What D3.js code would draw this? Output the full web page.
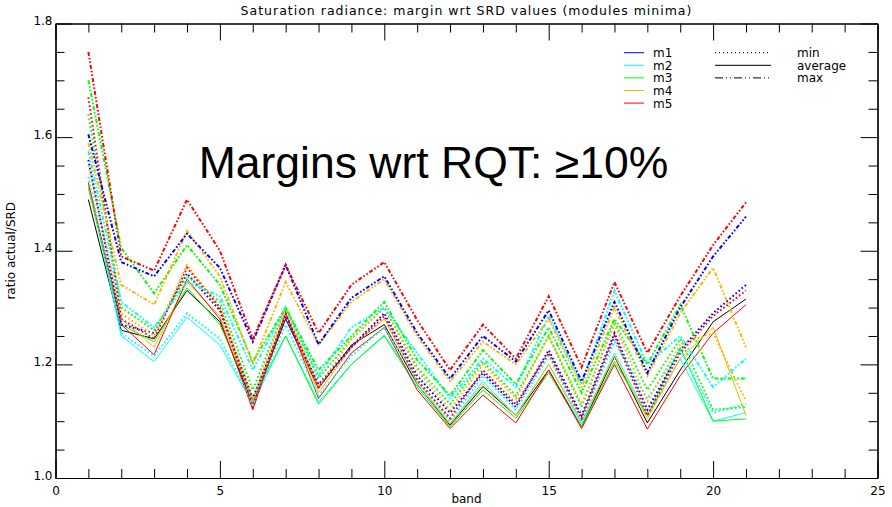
<!DOCTYPE html>
<html>
<head>
<meta charset="utf-8">
<script src="https://cdn.jsdelivr.net/npm/d3@7"></script>
<style>
  html, body { margin: 0; padding: 0; background: #fff; }
  svg { display: block; }
  text { font-family: "DejaVu Sans", "Liberation Sans", Arial, sans-serif; }
</style>
</head>
<body>
<svg id="chart" width="892" height="507"></svg>
<script>
// Spectral bands on the x axis
const bands = [1,2,3,4,5,6,7,8,9,10,11,12,13,14,15,16,17,18,19,20,21];

// Ratio actual/SRD per module: max (dash-dot), min (dotted), average (solid)
const m1Max = [1.605,1.38,1.355,1.43,1.37,1.24,1.375,1.235,1.317,1.355,1.255,1.175,1.25,1.205,1.295,1.17,1.31,1.185,1.30,1.39,1.46];
const m2Max = [1.575,1.31,1.265,1.345,1.32,1.19,1.30,1.18,1.265,1.30,1.22,1.14,1.21,1.16,1.285,1.165,1.33,1.20,1.25,1.16,1.21];
const m3Max = [1.70,1.405,1.325,1.41,1.34,1.205,1.30,1.19,1.25,1.31,1.208,1.145,1.225,1.165,1.265,1.15,1.28,1.20,1.305,1.175,1.175];
const m4Max = [1.59,1.34,1.305,1.435,1.355,1.20,1.345,1.235,1.31,1.35,1.25,1.17,1.24,1.20,1.28,1.16,1.30,1.18,1.29,1.37,1.23];
const m5Max = [1.75,1.39,1.365,1.49,1.40,1.245,1.375,1.255,1.34,1.38,1.278,1.19,1.27,1.21,1.32,1.195,1.345,1.22,1.32,1.41,1.485];

const m1Min = [1.56,1.27,1.255,1.36,1.295,1.14,1.285,1.165,1.231,1.29,1.18,1.115,1.185,1.125,1.225,1.11,1.255,1.12,1.225,1.29,1.34];
const m2Min = [1.53,1.255,1.215,1.29,1.245,1.13,1.27,1.145,1.215,1.265,1.175,1.10,1.18,1.12,1.215,1.10,1.24,1.14,1.225,1.115,1.13];
const m3Min = [1.64,1.30,1.26,1.355,1.31,1.155,1.30,1.175,1.245,1.30,1.195,1.13,1.205,1.145,1.25,1.125,1.275,1.155,1.245,1.12,1.125];
const m4Min = [1.55,1.29,1.25,1.375,1.30,1.14,1.30,1.16,1.245,1.30,1.19,1.12,1.20,1.14,1.25,1.13,1.27,1.135,1.235,1.255,1.135];
const m5Min = [1.67,1.28,1.245,1.37,1.30,1.125,1.29,1.16,1.23,1.285,1.172,1.105,1.19,1.13,1.22,1.105,1.25,1.11,1.22,1.285,1.33];

const m2Avg = [1.52,1.25,1.205,1.283,1.234,1.13,1.25,1.134,1.20,1.252,1.165,1.095,1.17,1.11,1.20,1.095,1.22,1.11,1.21,1.10,1.115];
const m3Avg = [1.51,1.27,1.24,1.335,1.27,1.14,1.25,1.13,1.20,1.25,1.16,1.09,1.155,1.105,1.185,1.09,1.205,1.11,1.23,1.10,1.104];
const m4Avg = [1.515,1.28,1.23,1.345,1.285,1.135,1.29,1.15,1.23,1.28,1.17,1.095,1.165,1.11,1.20,1.10,1.215,1.105,1.21,1.265,1.11];
const m5Avg = [1.52,1.27,1.217,1.35,1.28,1.12,1.29,1.14,1.22,1.265,1.155,1.087,1.146,1.097,1.19,1.087,1.20,1.086,1.18,1.255,1.305];
const allAvg = [1.49,1.26,1.245,1.33,1.275,1.13,1.28,1.158,1.234,1.27,1.165,1.093,1.161,1.11,1.19,1.09,1.214,1.097,1.19,1.275,1.315];

// Axis ticks
const xMajorTicks = [0,5,10,15,20,25];
const yMajorTicks = [1.0,1.2,1.4,1.6,1.8];
const yTickLabels = ["1.0","1.2","1.4","1.6","1.8"];

const moduleNames = ["m1","m2","m3","m4","m5"];
const styleNames = ["min","average","max"];

const colors = { m1: "#0000ff", m2: "#00ffff", m3: "#00ff00", m4: "#ffb400", m5: "#ff0000", all: "#000000" };
const dashes = { min: "1.6,2.4", average: null, max: "4,2,1.6,2,1.6,2" };
const widths = { min: 2, average: 1, max: 2 };

const series = [
  { mod: "all", style: "average", values: allAvg },
  { mod: "m2", style: "average", values: m2Avg },
  { mod: "m3", style: "average", values: m3Avg },
  { mod: "m4", style: "average", values: m4Avg },
  { mod: "m5", style: "average", values: m5Avg },
  { mod: "m1", style: "min", values: m1Min },
  { mod: "m2", style: "min", values: m2Min },
  { mod: "m3", style: "min", values: m3Min },
  { mod: "m4", style: "min", values: m4Min },
  { mod: "m5", style: "min", values: m5Min },
  { mod: "m2", style: "max", values: m2Max },
  { mod: "m3", style: "max", values: m3Max },
  { mod: "m4", style: "max", values: m4Max },
  { mod: "m1", style: "max", values: m1Max },
  { mod: "m5", style: "max", values: m5Max }
];

const svg = d3.select("#chart");
const L = 55.5, R = 877.5, T = 23.5, B = 478;

const x = d3.scaleLinear().domain([0, 25]).range([L, R]);
const y = d3.scaleLinear().domain([1.0, 1.8]).range([B, T]);

// Data lines
const line = d3.line().x((d, i) => x(bands[i])).y(d => y(d));
const gLines = svg.append("g");
series.forEach(s => {
  gLines.append("path")
    .datum(s.values)
    .attr("d", line)
    .attr("fill", "none")
    .attr("stroke", colors[s.mod])
    .attr("stroke-width", widths[s.style])
    .attr("stroke-dasharray", dashes[s.style])
    .attr("stroke-linejoin", "miter");
});

// Axes: major ticks long, minor ticks short, all pointing inward
const xMinor = d3.range(0, 26).filter(v => v % 5 !== 0);
const yMinor = d3.range(1.0, 1.8001, 0.05).filter(v => Math.abs(v * 5 - Math.round(v * 5)) > 1e-6);

function styleAxis(g) {
  g.selectAll("path.domain").attr("stroke", "#000").attr("stroke-width", 1.2);
  g.selectAll(".tick line").attr("stroke", "#000").attr("stroke-width", 1);
  g.selectAll(".tick text").attr("font-size", 12).attr("fill", "#000")
    .style("font-family", '"DejaVu Sans", sans-serif');
}

svg.append("g").attr("transform", `translate(0,${B})`)
  .call(d3.axisBottom(x).tickValues(xMajorTicks).tickSize(-17).tickSizeOuter(0).tickPadding(8).tickFormat(d3.format("d")))
  .call(styleAxis)
  .call(g => g.selectAll(".tick text").attr("y", 8).attr("dy", "0.71em"));
svg.append("g").attr("transform", `translate(0,${B})`)
  .call(d3.axisBottom(x).tickValues(xMinor).tickSize(-9).tickSizeOuter(0).tickFormat(""))
  .call(styleAxis);
svg.append("g").attr("transform", `translate(0,${T})`)
  .call(d3.axisTop(x).tickValues(xMajorTicks).tickSize(-17).tickSizeOuter(0).tickFormat(""))
  .call(styleAxis);
svg.append("g").attr("transform", `translate(0,${T})`)
  .call(d3.axisTop(x).tickValues(xMinor).tickSize(-9).tickSizeOuter(0).tickFormat(""))
  .call(styleAxis);

svg.append("g").attr("transform", `translate(${L},0)`)
  .call(d3.axisLeft(y).tickValues(yMajorTicks).tickSize(-17).tickSizeOuter(0).tickPadding(3)
    .tickFormat((d, i) => yTickLabels[i]))
  .call(styleAxis)
  .call(g => g.selectAll(".tick text").attr("x", -3).attr("dy", "0.1em"));
svg.append("g").attr("transform", `translate(${L},0)`)
  .call(d3.axisLeft(y).tickValues(yMinor).tickSize(-9).tickSizeOuter(0).tickFormat(""))
  .call(styleAxis);
svg.append("g").attr("transform", `translate(${R},0)`)
  .call(d3.axisRight(y).tickValues(yMajorTicks).tickSize(-17).tickSizeOuter(0).tickFormat(""))
  .call(styleAxis);
svg.append("g").attr("transform", `translate(${R},0)`)
  .call(d3.axisRight(y).tickValues(yMinor).tickSize(-9).tickSizeOuter(0).tickFormat(""))
  .call(styleAxis);

// Titles
svg.append("text").attr("x", (L + R) / 2).attr("y", 15).attr("text-anchor", "middle")
  .attr("font-size", 12.5).attr("letter-spacing", 1)
  .text("Saturation radiance: margin wrt SRD values (modules minima)");
svg.append("text").attr("x", (L + R) / 2).attr("y", 503).attr("text-anchor", "middle")
  .attr("font-size", 12).text("band");
svg.append("text").attr("transform", `translate(15,${(T + B) / 2}) rotate(-90)`).attr("text-anchor", "middle")
  .attr("font-size", 12).text("ratio actual/SRD");

// Annotation
svg.append("text").attr("x", 433.5).attr("y", 178).attr("text-anchor", "middle")
  .style("font-family", '"Liberation Sans", Arial, sans-serif')
  .attr("font-size", 44.5).attr("fill", "#000").text("Margins wrt RQT: \u226510%");

// Legend: module colours
const legend = svg.append("g");
moduleNames.forEach((m, i) => {
  const ly = 52.7 + i * 12.6;
  legend.append("line").attr("x1", 624).attr("x2", 644).attr("y1", ly).attr("y2", ly)
    .attr("stroke", colors[m]).attr("stroke-width", 1);
  legend.append("text").attr("x", 653).attr("y", ly + 4.5).attr("font-size", 12).text(m);
});
// Legend: line styles
styleNames.forEach((s, i) => {
  const ly = 52.7 + i * 12.6;
  legend.append("line").attr("x1", 715).attr("x2", 771).attr("y1", ly).attr("y2", ly)
    .attr("stroke", "#000").attr("stroke-width", 1)
    .attr("stroke-dasharray", s === "min" ? "1,3" : s === "max" ? "8,3,1,3,1,3" : null);
  legend.append("text").attr("x", 797).attr("y", ly + 4.5).attr("font-size", 12).text(s);
});
</script>
</body>
</html>
